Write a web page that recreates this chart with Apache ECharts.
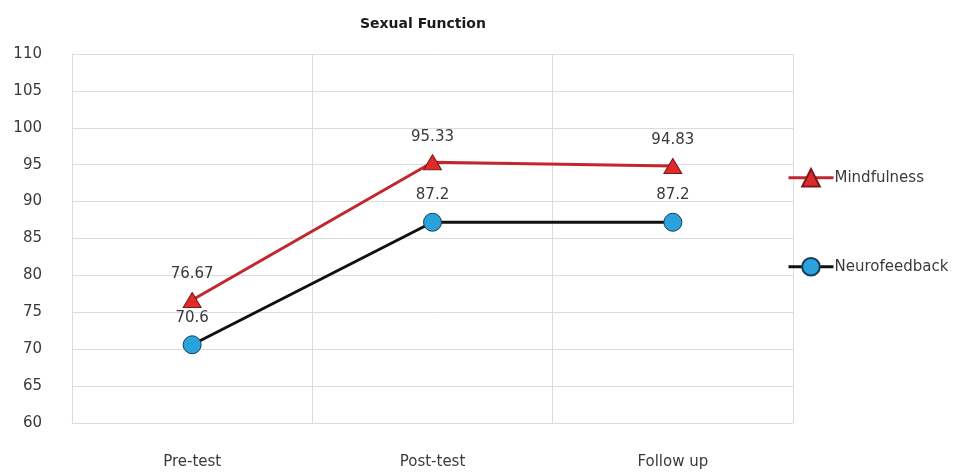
<!DOCTYPE html>
<html>
<head>
<meta charset="utf-8">
<script src="https://cdn.jsdelivr.net/npm/echarts@6/dist/echarts.min.js"></script>
<style>
  html, body { margin: 0; padding: 0; background: #fff; }
  #chart { width: 955px; height: 474px; }
</style>
</head>
<body>
<div id="chart"></div>
<script>
// Sexual function scores across the three measurement points
const categories = ['Pre-test', 'Post-test', 'Follow up'];
const mindfulness = [76.67, 95.33, 94.83];
const neurofeedback = [70.6, 87.2, 87.2];
const yTicks = { min: 60, max: 110, step: 5 };

const FONT = '"DejaVu Sans", sans-serif';
const TEXT_COLOR = '#3a3a3a';
const GRID_COLOR = '#dcdcdc';

const chart = echarts.init(document.getElementById('chart'));

const labelStyle = {
  show: true,
  position: 'top',
  distance: 10,
  color: TEXT_COLOR,
  fontFamily: FONT,
  fontSize: 15
};

const legendBase = {
  orient: 'vertical',
  left: 787,
  padding: 0,
  itemWidth: 45,
  itemHeight: 22,
  itemGap: 4,
  lineStyle: { width: 3 },
  textStyle: { fontFamily: FONT, fontSize: 15, color: TEXT_COLOR, padding: [0, 0, 0, -4] }
};

chart.setOption({
  animation: false,
  backgroundColor: '#ffffff',
  title: {
    text: 'Sexual Function',
    left: 355,
    top: 12,
    textStyle: { fontFamily: FONT, fontSize: 14, fontWeight: 'bold', color: '#1a1a1a' }
  },
  grid: { left: 72, right: 162, top: 54, bottom: 51, containLabel: false },
  legend: [
    Object.assign({ data: ['Mindfulness'], top: 168 }, legendBase),
    Object.assign({ data: ['Neurofeedback'], top: 257 }, legendBase)
  ],
  xAxis: {
    type: 'category',
    data: categories,
    boundaryGap: true,
    axisLine: { show: true, lineStyle: { color: GRID_COLOR, width: 1 } },
    axisTick: { show: false },
    splitLine: { show: true, lineStyle: { color: GRID_COLOR, width: 1 } },
    axisLabel: { margin: 32, color: TEXT_COLOR, fontFamily: FONT, fontSize: 15 }
  },
  yAxis: {
    type: 'value',
    min: yTicks.min,
    max: yTicks.max,
    interval: yTicks.step,
    axisLine: { show: true, lineStyle: { color: GRID_COLOR, width: 1 } },
    axisTick: { show: false },
    splitLine: { show: true, lineStyle: { color: GRID_COLOR, width: 1 } },
    axisLabel: { margin: 30, color: TEXT_COLOR, fontFamily: FONT, fontSize: 15 }
  },
  series: [
    {
      name: 'Mindfulness',
      type: 'line',
      data: mindfulness,
      symbol: 'triangle',
      symbolSize: [18, 15],
      lineStyle: { color: '#c1272d', width: 3 },
      itemStyle: { color: '#e02b2b', borderColor: '#7a1a1a', borderWidth: 1 },
      label: labelStyle,
      z: 3
    },
    {
      name: 'Neurofeedback',
      type: 'line',
      data: neurofeedback,
      symbol: 'circle',
      symbolSize: 18,
      lineStyle: { color: '#111111', width: 3 },
      itemStyle: { color: '#2aa3dc', borderColor: '#1b3b57', borderWidth: 1 },
      label: labelStyle,
      z: 2
    }
  ]
});
</script>
</body>
</html>
